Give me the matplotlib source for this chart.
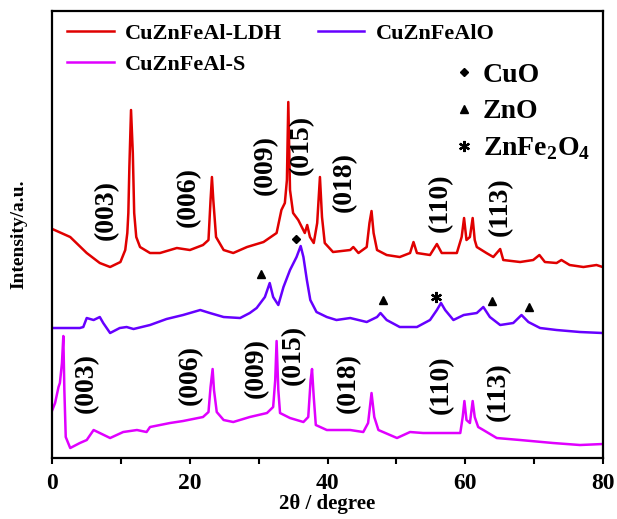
# XRD patterns of CuZnFeAl samples
import matplotlib
matplotlib.use('Agg')
import matplotlib.pyplot as plt
from matplotlib.lines import Line2D
from matplotlib.ticker import MultipleLocator

#____________________________________________________________________________________________________
# data (intensity in a.u.)
ldh_2theta = [0, 2.6, 5.0, 6.9, 8.4, 9.9, 10.6, 10.9, 11.05, 11.2, 11.44, 11.7, 11.9, 12.2, 12.75,
              14.2, 15.65, 18.1, 20.0, 21.9, 22.7, 23.0, 23.2, 23.4, 23.8, 24.9, 26.3, 28.3, 30.7,
              32.6, 33.3, 33.8, 34.1, 34.3, 34.55, 35.0, 35.75, 36.7, 37.05, 37.45, 38.0, 38.5, 38.9,
              39.2, 39.6, 40.8, 43.3, 43.75, 44.5, 45.7, 46.1, 46.4, 46.7, 47.2, 48.6, 50.5, 52.0,
              52.5, 53.0, 54.9, 55.9, 56.6, 58.8, 59.5, 59.85, 60.2, 60.7, 61.1, 61.4, 61.7, 63.1,
              64.1, 65.1, 65.55, 68.0, 69.9, 70.8, 71.6, 73.3, 74.0, 75.2, 77.2, 79.1, 80]
ldh_int = [229, 221, 205, 195, 191, 196, 208, 225, 245, 291, 348, 305, 245, 221, 211,
           205, 205, 210, 208, 213, 218, 258, 281, 258, 221, 208, 205, 211, 216,
           225, 248, 255, 278, 356, 268, 245, 238, 225, 233, 221, 215, 235, 281,
           241, 215, 206, 208, 211, 205, 211, 235, 247, 225, 208, 203, 201, 205,
           216, 205, 203, 214, 205, 205, 221, 240, 218, 221, 240, 218, 211, 205,
           201, 209, 198, 196, 198, 203, 196, 195, 198, 193, 191, 193, 191]

alo_2theta = [0, 4.0, 4.5, 5.0, 6.0, 6.9, 7.4, 8.4, 9.8, 10.8, 11.8, 14.2, 16.6, 19.0, 21.5,
              22.9, 24.9, 27.3, 28.7, 29.7, 30.9, 31.6, 32.1, 32.85, 33.6, 34.55, 35.5, 36.1, 36.5,
              37.0, 37.5, 38.4, 39.9, 41.3, 43.3, 45.7, 47.2, 47.7, 48.6, 50.5, 53.0, 54.9, 55.9,
              56.5, 57.1, 58.3, 59.8, 61.7, 62.65, 63.6, 65.1, 67.0, 68.2, 69.2, 70.9, 73.3, 76.7, 80]
alo_int = [130, 130, 131, 140, 138, 141, 135, 125, 130, 131, 129, 133, 139, 143, 148,
           145, 141, 140, 145, 150, 161, 175, 161, 153, 171, 188, 201, 212, 201,
           178, 158, 146, 141, 138, 140, 136, 141, 145, 138, 131, 131, 138, 148,
           155, 148, 138, 143, 145, 151, 141, 133, 135, 143, 136, 130, 128, 126, 125]

s_2theta = [0, 0.4, 0.9, 1.1, 1.4, 1.6, 1.75, 1.95, 2.6, 4.0, 5.0, 6.0, 6.9, 8.4, 10.3, 12.3,
            13.7, 14.2, 17.1, 19.0, 21.9, 22.7, 23.0, 23.3, 23.5, 23.9, 24.9, 26.3, 28.7, 31.2,
            32.1, 32.4, 32.6, 32.85, 33.1, 34.55, 36.5, 37.2, 37.55, 37.75, 38.0, 38.3, 39.9, 43.3,
            45.2, 45.9, 46.4, 46.8, 47.4, 50.1, 52.0, 53.9, 57.3, 59.3, 59.65, 59.9, 60.2, 60.7,
            61.1, 61.4, 61.9, 62.65, 64.6, 68.0, 72.8, 76.7, 80]
s_int = [48, 55, 71, 75, 95, 122, 68, 21, 10, 15, 18, 28, 25, 20, 26, 28,
         26, 31, 35, 37, 41, 46, 71, 89, 68, 46, 38, 36, 41, 45,
         51, 78, 117, 68, 45, 40, 36, 41, 78, 89, 61, 33, 28, 28,
         26, 35, 65, 41, 28, 20, 26, 25, 25, 25, 41, 57, 38, 35,
         57, 41, 31, 28, 20, 18, 15, 13, 14]

# hkl reflections of the LDH phase, label positions (2theta, intensity)
hkl_labels = ['(003)', '(006)', '(009)', '(015)', '(018)', '(110)', '(113)']
ldh_label_x = [7.9, 19.8, 30.9, 36.25, 42.5, 56.4, 65.1]
ldh_label_y = [248, 261, 293, 313, 276, 255, 251]
s_label_x = [4.9, 20.0, 29.6, 35.0, 43.0, 56.6, 64.8]
s_label_y = [75, 83, 90, 103, 75, 73, 66]

# phase markers on the CuZnFeAlO pattern
cuo_x, cuo_y = [35.4], [219]
zno_x, zno_y = [30.3, 48.1, 63.9, 69.3], [184, 158, 157, 151]
znfe_x, znfe_y = [55.8], [161]

red = '#e00000'
purple = '#6600ff'
magenta = '#e000ff'

#____________________________________________________________________________________________________
# plot
def main():
    plt.rcParams['font.family'] = 'Liberation Serif'
    plt.rcParams['font.weight'] = 'bold'
    plt.rcParams['mathtext.fontset'] = 'custom'
    plt.rcParams['mathtext.rm'] = 'Liberation Serif:bold'
    plt.rcParams['mathtext.bf'] = 'Liberation Serif:bold'

    fig = plt.figure(figsize=(6.17, 5.19), dpi=100)
    ax = fig.add_axes([0.0848, 0.1175, 0.892, 0.8613])

    l1, = ax.plot(ldh_2theta, ldh_int, color=red, lw=1.8)
    l3, = ax.plot(alo_2theta, alo_int, color=purple, lw=1.8)
    l2, = ax.plot(s_2theta, s_int, color=magenta, lw=1.8)

    for i in range(len(hkl_labels)):
        ax.text(ldh_label_x[i], ldh_label_y[i], hkl_labels[i], rotation=90,
                ha='center', va='center', fontsize=20, fontweight='bold')
        ax.text(s_label_x[i], s_label_y[i], hkl_labels[i], rotation=90,
                ha='center', va='center', fontsize=20, fontweight='bold')

    ax.plot(cuo_x, cuo_y, 'D', color='black', ms=4.5, ls='none')
    ax.plot(zno_x, zno_y, '^', color='black', ms=6, ls='none')
    ax.plot(znfe_x, znfe_y, marker=(6, 2, 0), color='black', ms=8, mew=1.6, ls='none')

    leg1 = ax.legend([l1, l2, l3], ['CuZnFeAl-LDH', 'CuZnFeAl-S', 'CuZnFeAlO'],
                     ncol=2, loc='upper left', bbox_to_anchor=(0.027, 0.972),
                     frameon=False, fontsize=16, handlelength=2.1, handletextpad=0.5,
                     columnspacing=1.6, labelspacing=0.45, borderpad=0, borderaxespad=0)
    ax.add_artist(leg1)

    h_cuo = Line2D([], [], marker='D', color='black', ms=4.5, ls='none')
    h_zno = Line2D([], [], marker='^', color='black', ms=6, ls='none')
    h_znfe = Line2D([], [], marker=(6, 2, 0), color='black', ms=8, mew=1.6, ls='none')
    ax.legend([h_cuo, h_zno, h_znfe], ['CuO', 'ZnO', r'ZnFe$_\mathrm{2}$O$_\mathrm{4}$'],
              loc='upper left', bbox_to_anchor=(0.732, 0.885), frameon=False, fontsize=20,
              handlelength=0.6, handletextpad=0.4, labelspacing=0.4,
              borderpad=0, borderaxespad=0)

    ax.set_xlim(0, 80)
    ax.set_ylim(0, 447)
    ax.set_yticks([])
    ax.xaxis.set_major_locator(MultipleLocator(20))
    ax.xaxis.set_minor_locator(MultipleLocator(10))
    ax.tick_params(axis='x', which='both', direction='out', length=4, width=1.5, labelsize=17, pad=7)
    for sp in ax.spines.values():
        sp.set_linewidth(1.6)

    ax.set_xlabel('2θ / degree', fontsize=15, fontweight='bold', labelpad=0)
    ax.set_ylabel('Intensity/a.u.', fontsize=14, fontweight='bold', labelpad=18)

    fig.savefig('out.png', dpi=100)


if __name__ == "__main__":
    main()
